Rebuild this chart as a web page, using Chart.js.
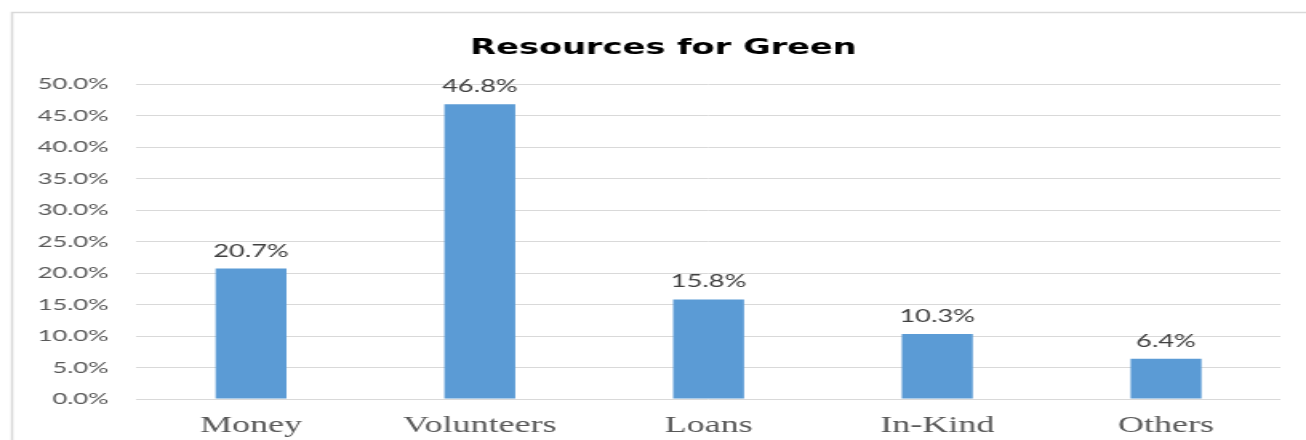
<!DOCTYPE html>
<html>
<head>
<meta charset="utf-8">
<script src="https://cdn.jsdelivr.net/npm/chart.js@4"></script>
<style>
  html, body { margin: 0; padding: 0; background: #fff; overflow: hidden; }
  /* chart is laid out narrow and widened to fill the window */
  #wrap { width: 816px; height: 440px; transform: scaleX(1.6005); transform-origin: 0 0; }
</style>
</head>
<body>
<div id="wrap"><canvas id="chart-1" width="816" height="440"></canvas></div>
<script>
const categories = ['Money', 'Volunteers', 'Loans', 'In-Kind', 'Others'];
const shares = [20.7, 46.8, 15.8, 10.3, 6.4];
const yTicks = [0, 5, 10, 15, 20, 25, 30, 35, 40, 45, 50];

// white background and the light frame round the chart
const frame = {
    id: 'frame',
    afterLayout(chart) {
        // nudge the title a little right of the canvas centre
        chart.titleBlock.left += 14.5;
        chart.titleBlock.right += 14.5;
    },
    beforeDraw(chart) {
        const c = chart.ctx;
        c.save();
        c.fillStyle = '#fff';
        c.fillRect(0, 0, chart.width, chart.height);
        c.strokeStyle = '#d9d9d9';
        c.lineWidth = 1.5;
        c.strokeRect(7.5, 12.5, chart.width + 20, chart.height + 20);
        c.restore();
    }
};

// value printed above each bar
const barLabels = {
    id: 'barLabels',
    afterDatasetsDraw(chart) {
        const c = chart.ctx;
        const meta = chart.getDatasetMeta(0);
        c.save();
        c.font = '17px Lato';
        c.fillStyle = '#404040';
        c.textAlign = 'center';
        c.textBaseline = 'alphabetic';
        meta.data.forEach((bar, i) => {
            c.fillText(shares[i].toFixed(1) + '%', bar.x, bar.y - 12);
        });
        c.restore();
    }
};

const ctx1 = document.getElementById('chart-1').getContext('2d');
const myChart = new Chart(ctx1, {
    type: 'bar',
    data: {
        labels: categories,
        datasets: [{
            data: shares,
            backgroundColor: '#5b9bd5',
            categoryPercentage: 1,
            barPercentage: 0.31
        }]
    },
    options: {
        responsive: false,
        animation: false,
        layout: { padding: { left: 0, right: 16, top: 0, bottom: 0 } },
        plugins: {
            legend: { display: false },
            tooltip: { enabled: false },
            title: {
                display: true,
                text: 'Resources for Green',
                color: '#000',
                font: { family: 'DejaVu Sans', size: 21, weight: 'bold' },
                padding: { top: 35.5, bottom: 23.3 }
            }
        },
        scales: {
            x: {
                grid: { display: false },
                border: { display: false },
                ticks: {
                    color: '#595959',
                    font: { family: 'Liberation Serif', size: 22.5 },
                    padding: 6,
                    maxRotation: 0
                },
                afterFit(axis) { axis.height = 41; }
            },
            y: {
                min: 0,
                max: 50,
                afterBuildTicks(axis) { axis.ticks = yTicks.map(v => ({ value: v })); },
                grid: { color: '#d9d9d9', lineWidth: 1, drawTicks: false },
                border: { display: false },
                ticks: {
                    color: '#595959',
                    font: { family: 'Lato', size: 16 },
                    padding: 17.5,
                    callback: v => v.toFixed(1) + '%'
                },
                afterFit(axis) { axis.width = 85.4; }
            }
        }
    },
    plugins: [frame, barLabels]
});
</script>
</body>
</html>
